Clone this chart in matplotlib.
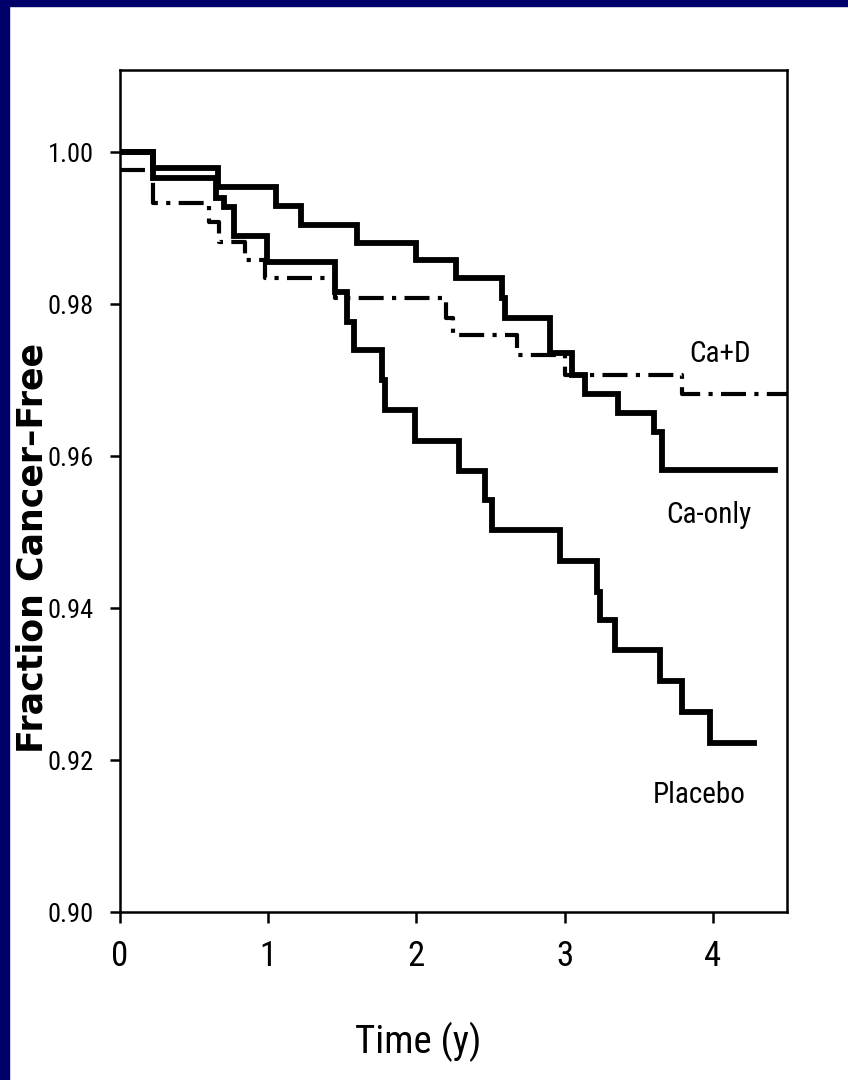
import matplotlib
matplotlib.use("Agg")
import matplotlib.pyplot as plt
from matplotlib.patches import Rectangle

# Kaplan-Meier style step data (time in years, fraction cancer-free)
ca_only_t = [0, 0.22, 0.66, 1.05, 1.22, 1.60, 2.00, 2.27, 2.58, 2.60, 2.90, 3.05, 3.14, 3.36, 3.60, 3.66, 4.42]
ca_only_s = [1.000, 0.9979, 0.9954, 0.9929, 0.9904, 0.9880, 0.9858, 0.9834, 0.9808, 0.9782,
             0.9735, 0.9707, 0.9682, 0.9657, 0.9632, 0.9582, 0.9582]

placebo_t = [0, 0.22, 0.65, 0.70, 0.77, 0.99, 1.45, 1.53, 1.58, 1.77, 1.79, 1.99, 2.29, 2.46,
             2.51, 2.97, 3.22, 3.24, 3.34, 3.64, 3.79, 3.98, 4.28]
placebo_s = [1.000, 0.9966, 0.9940, 0.9928, 0.9890, 0.9855, 0.9816, 0.9776, 0.9740, 0.9700,
             0.9660, 0.9620, 0.9580, 0.9542, 0.9503, 0.9462, 0.9421, 0.9384, 0.9345, 0.9304,
             0.9263, 0.9222, 0.9222]

ca_d_t = [0, 0.22, 0.60, 0.67, 0.84, 0.98, 1.45, 2.20, 2.25, 2.68, 3.00, 3.79, 4.50]
ca_d_s = [0.9976, 0.9933, 0.9908, 0.9882, 0.9858, 0.9834, 0.9808, 0.9782, 0.9759, 0.9733,
          0.9707, 0.9682, 0.9682]

x_ticks = [0, 1, 2, 3, 4]
y_ticks = [0.90, 0.92, 0.94, 0.96, 0.98, 1.00]

narrow = ["Roboto Condensed", "Open Sans Condensed", "Liberation Sans", "DejaVu Sans"]
navy = "#00006b"

fig = plt.figure(figsize=(8.48, 10.8), dpi=100, facecolor="white")

# slide frame (top and left strips)
fig.patches.append(Rectangle((0, 1 - 6 / 1080), 1, 6 / 1080, transform=fig.transFigure,
                             color=navy, zorder=0))
fig.patches.append(Rectangle((0, 0), 9 / 848, 1, transform=fig.transFigure,
                             color=navy, zorder=0))

ax = fig.add_axes([120 / 848, 1 - 912 / 1080, (787 - 120) / 848, (912 - 70) / 1080])

ax.step(ca_only_t, ca_only_s, where="post", color="black", lw=4.2, solid_joinstyle="miter")
ax.step(placebo_t, placebo_s, where="post", color="black", lw=4.2, solid_joinstyle="miter")
ax.step(ca_d_t, ca_d_s, where="post", color="black", lw=3.0, linestyle=(0, (6, 2, 1, 2)))

ax.text(4.05, 0.9734, "Ca+D", ha="center", va="center", fontsize=21, family=narrow)
ax.text(3.97, 0.9522, "Ca-only", ha="center", va="center", fontsize=21, family=narrow)
ax.text(3.91, 0.9154, "Placebo", ha="center", va="center", fontsize=21, family=narrow)

ax.set_xlim(0, 4.5)
ax.set_ylim(0.90, 1.0108)
ax.set_xticks(x_ticks)
ax.set_xticklabels([str(t) for t in x_ticks], family=narrow, fontsize=25)
ax.set_yticks(y_ticks)
ax.set_yticklabels([f"{v:.2f}" for v in y_ticks], family=narrow, fontsize=19)
ax.tick_params(axis="x", direction="out", length=8, width=1.8, pad=12)
ax.tick_params(axis="y", direction="out", length=7, width=1.8, pad=12)
for sp in ax.spines.values():
    sp.set_linewidth(1.8)

ax.set_xlabel("Time (y)", family=narrow, fontsize=28)
ax.xaxis.set_label_coords(0.447, -0.13)
fig.text(33 / 848, 1 - 548 / 1080, "Fraction Cancer\u2013Free", rotation=90,
         ha="center", va="center", fontsize=25, fontweight="bold", family="DejaVu Sans")

fig.savefig("out.png", dpi=100, facecolor="white")
